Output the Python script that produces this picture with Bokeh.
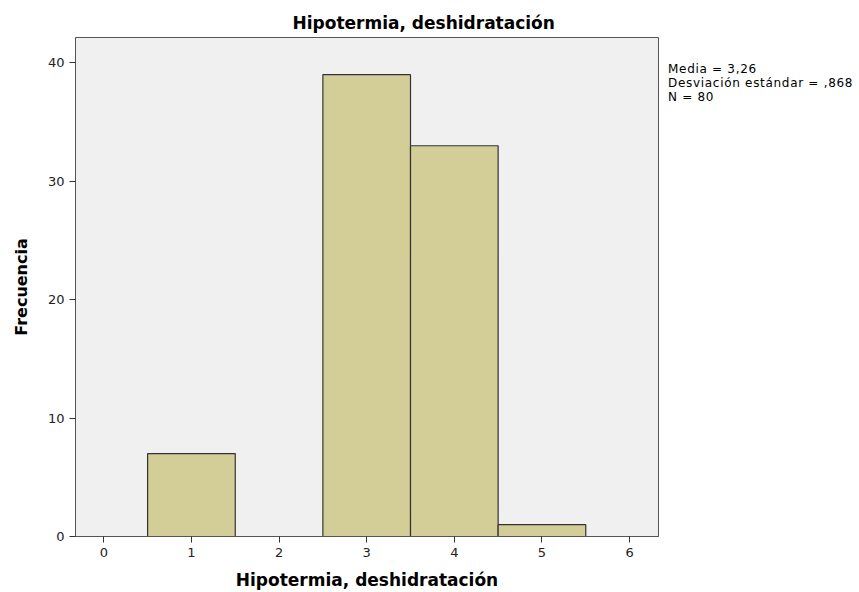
from bokeh.plotting import figure
from bokeh.models import Range1d, FixedTicker, ColumnDataSource, Div
from bokeh.layouts import row
from bokeh.embed import file_html
from bokeh.resources import INLINE
import numpy as np

# data
bin_values = [1, 3, 4, 5]
bin_counts = [7, 39, 33, 1]
x_ticks = [0, 1, 2, 3, 4, 5, 6]
y_ticks = [0, 10, 20, 30, 40]
title_text = "Hipotermia, deshidratación"
x_label = "Hipotermia, deshidratación"
y_label = "Frecuencia"

vals = np.repeat(bin_values, bin_counts)
n = len(vals)
mean = vals.mean()
sd = vals.std(ddof=1)
stats_lines = [
    "Media = " + f"{mean:.2f}".replace(".", ","),
    "Desviación estándar = " + f"{sd:.3f}".replace("0.", ",", 1),
    f"N = {n}",
]

FRAME_L, FRAME_R, FRAME_T, FRAME_B = 75, 658, 37, 536
PW, H = 668, 592
DIV_W = 859 - PW

p = figure(width=PW, height=H, output_backend="svg", toolbar_location=None,
           x_range=Range1d(-0.323, 6.33), y_range=Range1d(0, 42.14),
           min_border_left=FRAME_L, min_border_right=PW - FRAME_R,
           min_border_top=FRAME_T, min_border_bottom=H - FRAME_B,
           title=title_text)

p.title.align = "left"
p.title.offset = 217
p.title.text_font = "DejaVu Sans"
p.title.text_font_size = "17px"
p.title.text_font_style = "bold"
p.title.text_color = "#000000"
p.title.standoff = 9

p.background_fill_color = "#F0F0F0"
p.border_fill_color = "#FFFFFF"
p.outline_line_color = "#555555"
p.outline_line_width = 1
p.xgrid.visible = False
p.ygrid.visible = False

src = ColumnDataSource(dict(x=bin_values, top=bin_counts))
p.vbar(x="x", top="top", bottom=0, width=1.0, source=src,
       fill_color="#D3CE97", line_color="#333333", line_width=1.2)

for ax in (p.xaxis[0], p.yaxis[0]):
    ax.axis_line_color = "#555555"
    ax.major_tick_line_color = "#333333"
    ax.major_tick_in = 0
    ax.major_tick_out = 6
    ax.minor_tick_line_color = None
    ax.major_label_text_font = "DejaVu Sans"
    ax.major_label_text_font_size = "13px"
    ax.major_label_text_color = "#222222"
    ax.major_label_standoff = 5
    ax.axis_label_text_font = "DejaVu Sans"
    ax.axis_label_text_font_style = "bold"
    ax.axis_label_text_color = "#000000"

p.xaxis.ticker = FixedTicker(ticks=x_ticks)
p.yaxis.ticker = FixedTicker(ticks=y_ticks)
p.xaxis.axis_label = x_label
p.yaxis.axis_label = y_label
p.xaxis.axis_label_text_font_size = "17px"
p.yaxis.axis_label_text_font_size = "16px"
p.xaxis.axis_label_standoff = 10
p.yaxis.axis_label_standoff = 14

# statistics text to the right of the frame
stats_html = (
    "<div style=\"font-family:'DejaVu Sans';font-size:12px;line-height:14px;"
    "letter-spacing:0.7px;color:#000;padding-top:57px;margin-left:-5px;"
    "white-space:nowrap;\">"
    + "<br>".join(stats_lines) + "</div>"
)
div = Div(text=stats_html, width=DIV_W, height=H)

layout = row(p, div, spacing=0)

open("out.html", "w").write(file_html(layout, INLINE))
